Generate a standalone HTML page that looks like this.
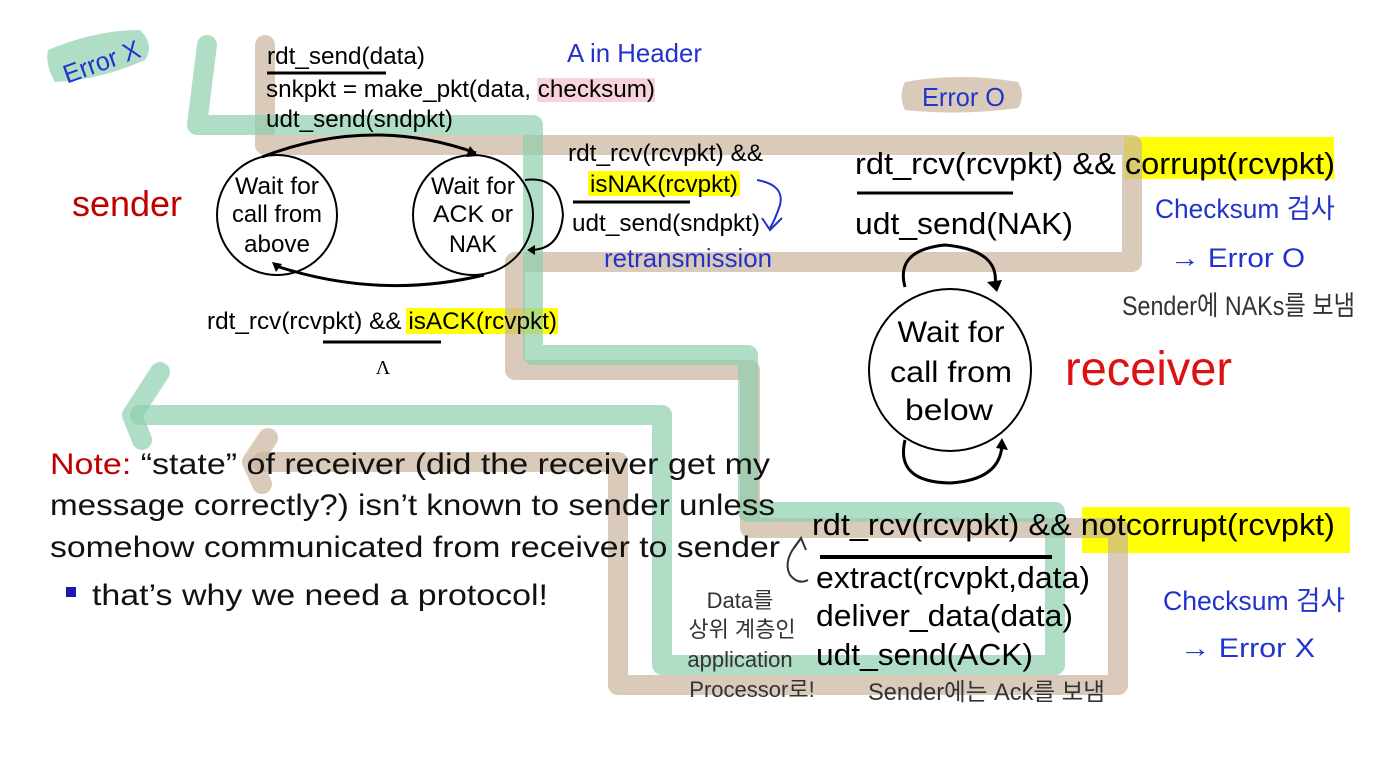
<!DOCTYPE html>
<html><head><meta charset="utf-8"><style>
html,body{margin:0;padding:0;background:#fff;}
svg{display:block;}
.d{font-family:"Liberation Sans",sans-serif;fill:#000;}
.h{font-family:"Liberation Sans","Noto Sans CJK KR",sans-serif;fill:#2233cc;}
.k{font-family:"Liberation Sans","Noto Sans CJK KR",sans-serif;fill:#333;}
</style></head><body>
<svg width="1398" height="777" viewBox="0 0 1398 777" xmlns="http://www.w3.org/2000/svg">
<!-- highlights -->
<rect x="537" y="78" width="118" height="24" fill="#f8d3dc"/>
<rect x="588" y="171" width="152" height="25" fill="#ffff00"/>
<rect x="406" y="308" width="152" height="26" fill="#ffff00"/>
<rect x="1124" y="137" width="210" height="42" fill="#ffff00"/>
<rect x="1082" y="507" width="268" height="46" fill="#ffff00"/>
<!-- brown path -->
<g fill="none" stroke="#c9b39c" stroke-opacity="0.7" stroke-width="20" stroke-linejoin="round" stroke-linecap="round">
<path d="M265 45 L265 145 L1132 145 L1132 262 L515 262 L515 370 L750 370 L750 528 L1118 528 L1118 685 L618 685 L618 462 L262 462"/>
<path d="M268 438 L252 462 L262 484"/>
</g>
<path d="M905 82 Q960 72 1018 82 Q1026 96 1018 108 Q960 116 905 110 Q898 96 905 82Z" fill="#c9b39c" fill-opacity="0.7"/>
<!-- green path -->
<g fill="none" stroke="#8fcfae" stroke-opacity="0.7" stroke-width="20" stroke-linejoin="round" stroke-linecap="round">
<path d="M207 45 L197 125 L533 125 L533 355 L748 355 L748 512 L1055 512 L1055 665 L662 665 L662 415 L140 415"/>
<path d="M160 372 L132 415 L142 440"/>
</g>
<path d="M48 50 Q95 30 140 30 Q155 45 145 60 Q100 80 55 82 Q45 65 48 50Z" fill="#8fcfae" fill-opacity="0.7"/>
<!-- sender text -->
<g class="d" font-size="24">
<text x="267" y="64" textLength="158" lengthAdjust="spacingAndGlyphs">rdt_send(data)</text>
<text x="266" y="97" textLength="389" lengthAdjust="spacingAndGlyphs">snkpkt = make_pkt(data, checksum)</text>
<text x="266" y="127" textLength="187" lengthAdjust="spacingAndGlyphs">udt_send(sndpkt)</text>
<text x="568" y="161" textLength="195" lengthAdjust="spacingAndGlyphs">rdt_rcv(rcvpkt) &amp;&amp;</text>
<text x="590" y="192" textLength="148" lengthAdjust="spacingAndGlyphs">isNAK(rcvpkt)</text>
<text x="572" y="231" textLength="188" lengthAdjust="spacingAndGlyphs">udt_send(sndpkt)</text>
<text x="207" y="329" textLength="350" lengthAdjust="spacingAndGlyphs">rdt_rcv(rcvpkt) &amp;&amp; isACK(rcvpkt)</text>
</g>
<line x1="267" y1="73" x2="386" y2="73" stroke="#000" stroke-width="3"/>
<ellipse cx="277" cy="215" rx="60" ry="60" fill="none" stroke="#000" stroke-width="2"/>
<ellipse cx="473" cy="215" rx="60" ry="60" fill="none" stroke="#000" stroke-width="2"/>
<g class="d" font-size="24" text-anchor="middle">
<text x="277" y="194" textLength="84" lengthAdjust="spacingAndGlyphs">Wait for</text><text x="277" y="222" textLength="90" lengthAdjust="spacingAndGlyphs">call from</text><text x="277" y="252" textLength="66" lengthAdjust="spacingAndGlyphs">above</text>
<text x="473" y="194" textLength="84" lengthAdjust="spacingAndGlyphs">Wait for</text><text x="473" y="222" textLength="80" lengthAdjust="spacingAndGlyphs">ACK or</text><text x="473" y="252" textLength="48" lengthAdjust="spacingAndGlyphs">NAK</text>
</g>
<path d="M262 157 Q370 115 476 153" fill="none" stroke="#000" stroke-width="3"/>
<path d="M470 146 L478 156 L466 157Z" fill="#000"/>
<path d="M484 275 Q380 300 276 266" fill="none" stroke="#000" stroke-width="3"/>
<path d="M272 262 L282 264 L276 272Z" fill="#000"/>
<path d="M525 180 Q560 175 563 215 Q560 250 530 250" fill="none" stroke="#000" stroke-width="2"/>
<path d="M527 250 L535 245 L535 255Z" fill="#000"/>
<line x1="573" y1="202" x2="690" y2="202" stroke="#000" stroke-width="3"/>
<line x1="323" y1="342" x2="441" y2="342" stroke="#000" stroke-width="3"/>
<text x="383" y="374" font-family="Liberation Serif,serif" font-size="20" text-anchor="middle">Λ</text>
<text x="72" y="216" font-family="Liberation Sans,sans-serif" font-size="36" fill="#c00000" textLength="110" lengthAdjust="spacingAndGlyphs">sender</text>
<!-- receiver -->
<g class="d" font-size="31">
<text x="855" y="174" textLength="480" lengthAdjust="spacingAndGlyphs">rdt_rcv(rcvpkt) &amp;&amp; corrupt(rcvpkt)</text>
<text x="855" y="234" textLength="218" lengthAdjust="spacingAndGlyphs">udt_send(NAK)</text>
<text x="812" y="535" textLength="523" lengthAdjust="spacingAndGlyphs">rdt_rcv(rcvpkt) &amp;&amp;  notcorrupt(rcvpkt)</text>
<text x="816" y="588" textLength="274" lengthAdjust="spacingAndGlyphs">extract(rcvpkt,data)</text>
<text x="816" y="626" textLength="257" lengthAdjust="spacingAndGlyphs">deliver_data(data)</text>
<text x="816" y="665" textLength="217" lengthAdjust="spacingAndGlyphs">udt_send(ACK)</text>
</g>
<line x1="857" y1="193" x2="1013" y2="193" stroke="#000" stroke-width="3"/>
<ellipse cx="950" cy="370" rx="81" ry="81" fill="none" stroke="#000" stroke-width="2"/>
<g class="d" font-size="30" text-anchor="middle">
<text x="951" y="342" textLength="107" lengthAdjust="spacingAndGlyphs">Wait for</text><text x="951" y="382" textLength="122" lengthAdjust="spacingAndGlyphs">call from</text><text x="949" y="420" textLength="88" lengthAdjust="spacingAndGlyphs">below</text>
</g>
<path d="M905 287 Q895 250 945 245 Q1000 250 995 285" fill="none" stroke="#000" stroke-width="3"/>
<path d="M987 282 L997 292 L1002 280Z" fill="#000"/>
<path d="M905 440 Q895 482 950 483 Q1000 480 1002 445" fill="none" stroke="#000" stroke-width="3"/>
<path d="M996 448 L1002 438 L1008 450Z" fill="#000"/>
<text x="1065" y="385" font-family="Liberation Sans,sans-serif" font-size="48" fill="#dd1111" textLength="167" lengthAdjust="spacingAndGlyphs">receiver</text>
<line x1="820" y1="557" x2="1052" y2="557" stroke="#000" stroke-width="4"/>
<!-- note -->
<g font-family="Liberation Sans,sans-serif" font-size="30" fill="#111">
<text x="50" y="474" textLength="720" lengthAdjust="spacingAndGlyphs"><tspan fill="#c00000">Note:</tspan> “state” of receiver (did the receiver get my</text>
<text x="50" y="515" textLength="725" lengthAdjust="spacingAndGlyphs">message correctly?) isn’t known to sender unless</text>
<text x="50" y="557" textLength="730" lengthAdjust="spacingAndGlyphs">somehow communicated from receiver to sender</text>
<text x="92" y="605" textLength="456" lengthAdjust="spacingAndGlyphs">that’s why we need a protocol!</text>
</g>
<rect x="66" y="587" width="10" height="10" fill="#1a1aaa"/>
<!-- handwritten -->
<text class="h" x="60" y="72" font-size="26" transform="rotate(-20 97 58)" textLength="80" lengthAdjust="spacingAndGlyphs">Error X</text>
<text class="h" x="567" y="62" font-size="26" textLength="135" lengthAdjust="spacingAndGlyphs">A in Header</text>
<text class="h" x="922" y="106" font-size="26" textLength="83" lengthAdjust="spacingAndGlyphs">Error O</text>
<text class="h" x="604" y="267" font-size="26" textLength="168" lengthAdjust="spacingAndGlyphs">retransmission</text>
<path d="M757 180 Q785 185 780 205 Q775 220 770 228" fill="none" stroke="#2233cc" stroke-width="2"/>
<path d="M762 218 L770 230 L782 218" fill="none" stroke="#2233cc" stroke-width="2"/>
<text class="h" x="1155" y="218" font-size="27" textLength="180" lengthAdjust="spacingAndGlyphs">Checksum 검사</text>
<text class="h" x="1170" y="267" font-size="27" textLength="135" lengthAdjust="spacingAndGlyphs">→ Error O</text>
<text class="k" x="1122" y="315" font-size="27" textLength="233" lengthAdjust="spacingAndGlyphs">Sender에 NAKs를 보냄</text>
<text class="h" x="1163" y="610" font-size="27" textLength="182" lengthAdjust="spacingAndGlyphs">Checksum 검사</text>
<text class="h" x="1180" y="657" font-size="27" textLength="135" lengthAdjust="spacingAndGlyphs">→ Error X</text>
<text class="k" x="868" y="700" font-size="24" textLength="237" lengthAdjust="spacingAndGlyphs">Sender에는 Ack를 보냄</text>
<g class="k" font-size="22" text-anchor="middle">
<text x="740" y="608">Data를</text><text x="742" y="637">상위 계층인</text><text x="740" y="667">application</text><text x="752" y="697">Processor로!</text>
</g>
<path d="M800 540 Q782 560 790 575 Q798 585 808 580" fill="none" stroke="#333" stroke-width="2"/>
<path d="M794 548 L801 538 L806 550" fill="none" stroke="#333" stroke-width="2"/>
</svg>
</body></html>
